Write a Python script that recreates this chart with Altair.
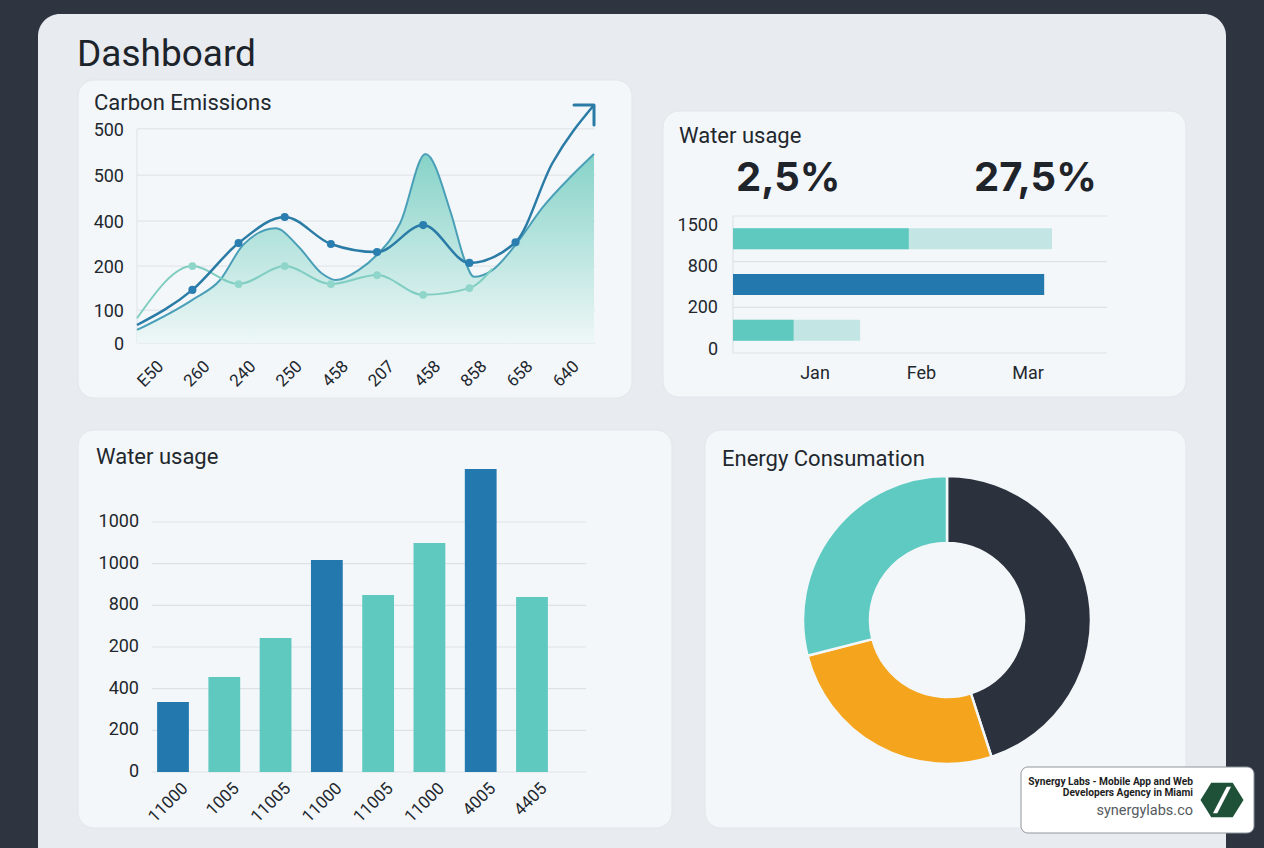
import altair as alt
import pandas as pd

# ---------------- data ----------------
# Carbon Emissions (card 1)
carbon_x_labels = ["E50", "260", "240", "250", "458", "207", "458", "858", "658", "640"]
carbon_y_labels = ["0", "100", "200", "400", "500", "500"]
carbon_grid_values = [0, 73, 171, 271, 373, 476]

area_idx = [-0.2, 1.0, 1.6, 2.1, 2.8, 3.3, 3.8, 4.1, 4.6, 5.0, 5.5, 6.05, 6.6, 6.9, 7.1, 7.5, 8.0, 8.6, 9.2, 9.7]
area_val = [29, 96, 140, 218, 255, 214, 155, 140, 162, 196, 266, 420, 289, 184, 147, 162, 218, 303, 370, 420]

dark_pt_idx = [1, 2, 3, 4, 5, 6, 7, 8]
dark_pt_val = [118, 222, 280, 220, 202, 262, 178, 224]
dark_head_idx, dark_head_val = [-0.2], [40]
dark_tail_idx, dark_tail_val = [8.8, 9.7], [400, 529]

light_pt_idx = [1, 2, 3, 4, 5, 6, 7]
light_pt_val = [171, 131, 171, 131, 151, 107, 122]
light_head_idx, light_head_val = [-0.2], [55]
light_tail_idx, light_tail_val = [7.5], [165]

# Water usage (card 2)
hbar_solid = [470, 832, 162]
hbar_total = [853, 832, 340]
hbar_y_labels = ["0", "200", "800", "1500"]
months = ["Jan", "Feb", "Mar"]
kpi_values = ["2,5%", "27,5%"]

# Water usage (card 3)
vbar_labels = ["11000", "1005", "11005", "11000", "11005", "11000", "4005", "4405"]
vbar_values = [336, 456, 643, 1018, 850, 1099, 1454, 840]
vbar_y_labels = ["0", "200", "400", "200", "800", "1000", "1000"]
vbar_grid_values = [0, 200, 400, 600, 800, 1000, 1200]

# Energy Consumation (card 4)
energy_segments = ["Segment A", "Segment B", "Segment C"]
energy_share = [45, 26, 29]

# ---------------- styles ----------------
FONT = "Roboto"
TXT = "#22272e"
GRID = "#dde2e7"
DARK = "#2379ad"
TEAL = "#5fc9c0"
PALE = "#c3e6e4"
CARD = "#f4f7fa"

ONE = pd.DataFrame({"k": [0]})


def box(x0, y0, x1, y1, fill, radius=16, stroke=None):
    kw = dict(fill=fill, cornerRadius=radius)
    if stroke:
        kw.update(stroke=stroke, strokeWidth=1)
    return alt.Chart(ONE).mark_rect(**kw).encode(
        x=alt.value(x0), x2=alt.value(x1), y=alt.value(y0), y2=alt.value(y1))


def text(t, x, y, size, color=TXT, weight="normal", align="left", font=FONT, baseline="alphabetic"):
    return alt.Chart(ONE).mark_text(
        text=t, fontSize=size, color=color, fontWeight=weight, align=align,
        font=font, baseline=baseline).encode(x=alt.value(x), y=alt.value(y))


layers = []
# main panel + cards
layers.append(box(38, 14, 1226, 900, "#e8ecf0", radius=22))
layers.append(box(78, 80, 632, 398, CARD, stroke="#e2e7ec"))
layers.append(box(663, 111, 1186, 397, CARD, stroke="#e2e7ec"))
layers.append(box(78, 430, 672, 828, CARD, stroke="#e2e7ec"))
layers.append(box(705, 430, 1186, 828, CARD, stroke="#e2e7ec"))

# titles
layers.append(text("Dashboard", 77, 66, 37, color="#1d232b"))
layers.append(text("Carbon Emissions", 94, 110, 22))
layers.append(text("Water usage", 679, 143, 22))
layers.append(text("Water usage", 96, 464, 22))
layers.append(text("Energy Consumation", 722, 466, 22))

# ---------- card 1: Carbon Emissions ----------
cx = alt.Scale(domain=[-0.2, 9.7], range=[137, 594])
cy = alt.Scale(domain=[0, 500], range=[343, 118])

grid1 = pd.DataFrame({"v": carbon_grid_values, "t": carbon_y_labels})
layers.append(alt.Chart(grid1).mark_rule(color=GRID, strokeWidth=1).encode(
    y=alt.Y("v:Q", scale=cy, axis=None), x=alt.value(137), x2=alt.value(595)))
layers.append(alt.Chart(ONE).mark_rule(color=GRID, strokeWidth=1).encode(
    x=alt.value(137), y=alt.value(129), y2=alt.value(343)))

area_df = pd.DataFrame({"i": area_idx, "v": area_val})
grad = alt.Gradient(
    gradient="linear",
    stops=[alt.GradientStop(color="#eef7f7", offset=0),
           alt.GradientStop(color="#86d3c8", offset=1)],
    x1=1, x2=1, y1=1, y2=0)
layers.append(alt.Chart(area_df).mark_area(interpolate="monotone", color=grad, opacity=1).encode(
    x=alt.X("i:Q", scale=cx, axis=None), y=alt.Y("v:Q", scale=cy, axis=None)))
layers.append(alt.Chart(area_df).mark_line(interpolate="monotone", color="#4a9fb8", strokeWidth=2).encode(
    x=alt.X("i:Q", scale=cx, axis=None), y=alt.Y("v:Q", scale=cy, axis=None)))

light_line = pd.DataFrame({"i": light_head_idx + light_pt_idx + light_tail_idx,
                           "v": light_head_val + light_pt_val + light_tail_val})
layers.append(alt.Chart(light_line).mark_line(interpolate="monotone", color="#80cdc1", strokeWidth=2).encode(
    x=alt.X("i:Q", scale=cx, axis=None), y=alt.Y("v:Q", scale=cy, axis=None)))
light_pts = pd.DataFrame({"i": light_pt_idx, "v": light_pt_val})
layers.append(alt.Chart(light_pts).mark_circle(color="#8fd5ca", size=60, opacity=1).encode(
    x=alt.X("i:Q", scale=cx, axis=None), y=alt.Y("v:Q", scale=cy, axis=None)))

dark_line = pd.DataFrame({"i": dark_head_idx + dark_pt_idx + dark_tail_idx,
                          "v": dark_head_val + dark_pt_val + dark_tail_val})
layers.append(alt.Chart(dark_line).mark_line(interpolate="monotone", color="#2a7ca6", strokeWidth=2.5).encode(
    x=alt.X("i:Q", scale=cx, axis=None), y=alt.Y("v:Q", scale=cy, axis=None)))
dark_pts = pd.DataFrame({"i": dark_pt_idx, "v": dark_pt_val})
layers.append(alt.Chart(dark_pts).mark_circle(color="#2a7fb0", size=65, opacity=1).encode(
    x=alt.X("i:Q", scale=cx, axis=None), y=alt.Y("v:Q", scale=cy, axis=None)))
arrow_df = pd.DataFrame({"i": dark_tail_idx[-1:], "v": dark_tail_val[-1:]})
layers.append(alt.Chart(arrow_df).mark_point(
    shape="M -1 0 L 0 0 L 0 1", filled=False, size=1600, strokeWidth=3,
    color="#2a7ca6", opacity=1, strokeCap="round", strokeJoin="round").encode(
    x=alt.X("i:Q", scale=cx, axis=None), y=alt.Y("v:Q", scale=cy, axis=None)))

layers.append(alt.Chart(grid1).mark_text(align="right", baseline="middle", fontSize=18, font=FONT, color=TXT, dy=2).encode(
    y=alt.Y("v:Q", scale=cy, axis=None), x=alt.value(124), text="t:N"))
xl1 = pd.DataFrame({"i": list(range(len(carbon_x_labels))), "t": carbon_x_labels})
layers.append(alt.Chart(xl1).transform_calculate(lx="datum.i + 0.32").mark_text(
    align="right", baseline="middle", angle=315, fontSize=17, font=FONT, color=TXT).encode(
    x=alt.X("lx:Q", scale=cx, axis=None), y=alt.value(364), text="t:N"))

# ---------- card 2: Water usage (horizontal bars) ----------
wx = alt.Scale(domain=[0, 1000], range=[733, 1107])
wy = alt.Scale(domain=[0, 3], range=[353, 216])
grid2 = pd.DataFrame({"v": list(range(len(hbar_y_labels))), "t": hbar_y_labels})
layers.append(alt.Chart(grid2).mark_rule(color=GRID, strokeWidth=1.2).encode(
    y=alt.Y("v:Q", scale=wy, axis=None), x=alt.value(733), x2=alt.value(1107)))
layers.append(alt.Chart(ONE).mark_rule(color=GRID, strokeWidth=1.2).encode(
    x=alt.value(733), y=alt.value(216), y2=alt.value(353)))
hb = pd.DataFrame({"i": list(range(len(hbar_solid))), "s": hbar_solid, "tot": hbar_total})
hb_base = alt.Chart(hb).transform_calculate(
    z="0", y0="2.5 - datum.i - 0.23", y1="2.5 - datum.i + 0.23")
layers.append(hb_base.mark_rect(color=PALE).encode(
    x=alt.X("z:Q", scale=wx, axis=None), x2="tot:Q",
    y=alt.Y("y0:Q", scale=wy, axis=None), y2="y1:Q"))
layers.append(hb_base.mark_rect().encode(
    x=alt.X("z:Q", scale=wx, axis=None), x2="s:Q",
    y=alt.Y("y0:Q", scale=wy, axis=None), y2="y1:Q",
    color=alt.condition("datum.i == 1", alt.value(DARK), alt.value(TEAL))))
# tick labels sit slightly below their gridlines, increasingly so toward the top
layers.append(alt.Chart(grid2).transform_calculate(ly="datum.v * 0.905 + 0.07").mark_text(
    align="right", baseline="middle", fontSize=18, font=FONT, color=TXT).encode(
    y=alt.Y("ly:Q", scale=wy, axis=None), x=alt.value(718), text="t:N"))
mdf = pd.DataFrame({"m": months})
layers.append(alt.Chart(mdf).mark_text(align="center", baseline="middle", fontSize=18, font=FONT, color=TXT).encode(
    x=alt.X("m:N", scale=alt.Scale(domain=months, range=[815, 1028], padding=0), axis=None),
    y=alt.value(374), text="m:N"))
layers.append(text(kpi_values[0], 736, 191, 40, color="#1f242b", weight="bold", font="Inter"))
layers.append(text(kpi_values[1], 974, 191, 40, color="#1f242b", weight="bold", font="Inter"))

# ---------- card 3: Water usage (vertical bars) ----------
bx = alt.Scale(domain=[0, 7], range=[173, 532])
by = alt.Scale(domain=[0, 1200], range=[772, 522])
grid3 = pd.DataFrame({"v": vbar_grid_values, "t": vbar_y_labels})
layers.append(alt.Chart(grid3).mark_rule(color=GRID, strokeWidth=1.2).encode(
    y=alt.Y("v:Q", scale=by, axis=None), x=alt.value(152), x2=alt.value(586)))
vb = pd.DataFrame({"i": list(range(len(vbar_values))), "v": vbar_values, "t": vbar_labels})
layers.append(alt.Chart(vb).transform_calculate(
    x0="datum.i - 0.31", x1="datum.i + 0.31", z="0").mark_rect().encode(
    x=alt.X("x0:Q", scale=bx, axis=None), x2="x1:Q",
    y=alt.Y("z:Q", scale=by, axis=None), y2="v:Q",
    color=alt.condition("datum.i % 3 == 0", alt.value(DARK), alt.value(TEAL))))
layers.append(alt.Chart(grid3).mark_text(align="right", baseline="middle", fontSize=18, font=FONT, color=TXT).encode(
    y=alt.Y("v:Q", scale=by, axis=None), x=alt.value(139), text="t:N"))
layers.append(alt.Chart(vb).transform_calculate(lx="datum.i + 0.24").mark_text(
    align="right", baseline="middle", angle=315, fontSize=17, font=FONT, color=TXT).encode(
    x=alt.X("lx:Q", scale=bx, axis=None), y=alt.value(786), text="t:N"))

# ---------- card 4: Energy donut ----------
edf = pd.DataFrame({"seg": energy_segments, "share": energy_share, "i": [0, 1, 2]})
layers.append(alt.Chart(edf).mark_arc(innerRadius=77, outerRadius=144, stroke=CARD, strokeWidth=2.5).encode(
    theta=alt.Theta("share:Q", stack=True),
    order=alt.Order("i:Q"),
    color=alt.Color("seg:N", scale=alt.Scale(domain=energy_segments,
                                             range=["#2b323d", "#f5a51d", "#5ecac2"]), legend=None),
    x=alt.value(947), y=alt.value(620)))

# ---------- watermark ----------
layers.append(box(1021, 767, 1254, 833, "#ffffff", radius=7, stroke="#8f959c"))
layers.append(text("Synergy Labs - Mobile App and Web", 1193, 785, 10.2, color="#1e1e1e", weight="bold",
                   align="right", font="Roboto"))
layers.append(text("Developers Agency in Miami", 1193, 796, 10.2, color="#1e1e1e", weight="bold",
                   align="right", font="Roboto"))
layers.append(text("synergylabs.co", 1193, 815, 14.5, color="#555a60", align="right", font="Roboto"))
logo_hex = "M -1 0 L -0.5 -0.8 L 0.5 -0.8 L 1 0 L 0.5 0.8 L -0.5 0.8 Z"
logo_cut = "M -0.42 0.62 L 0.22 -0.62 L 0.42 -0.62 L -0.22 0.62 Z"
for shp, col in [(logo_hex, "#1f5138"), (logo_cut, "#ffffff")]:
    layers.append(alt.Chart(ONE).mark_point(shape=shp, filled=True, size=1850, color=col,
                                            opacity=1, strokeWidth=0).encode(
        x=alt.value(1222), y=alt.value(800)))

chart = alt.layer(*layers).resolve_scale(
    x="independent", y="independent", color="independent", theta="independent"
).properties(
    width=1264, height=848, padding=0, autosize="none", background="#2e3541"
).configure_view(stroke=None)

chart.save("out.html", embed_options={"renderer": "svg", "actions": False})
